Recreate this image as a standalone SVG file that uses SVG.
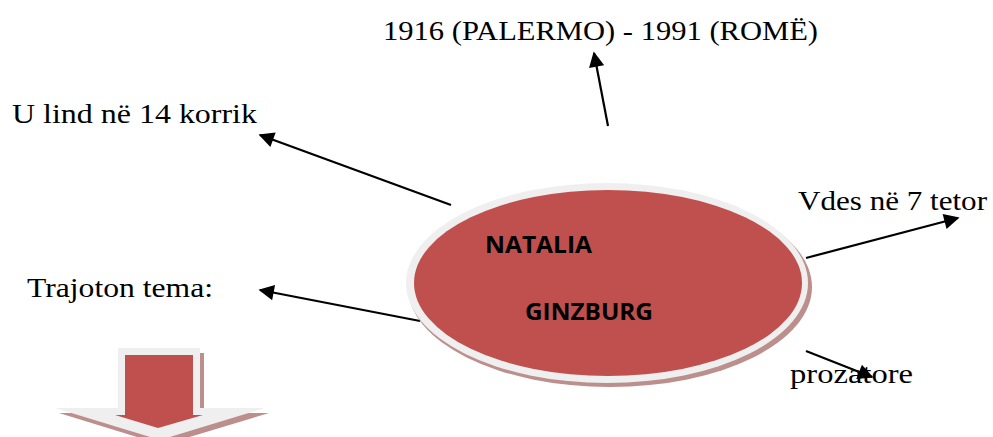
<svg xmlns="http://www.w3.org/2000/svg" width="993" height="437" viewBox="0 0 993 437">
<defs>
<style>
.lbl{font-family:"Liberation Serif","DejaVu Serif",serif;font-size:27px;fill:#000}
.nm{font-family:"Open Sans","Liberation Sans",sans-serif;font-weight:bold;font-size:24px;fill:#000}
.con{stroke:#000;stroke-width:2.2;fill:none;marker-end:url(#ah)}
</style>
<marker id="ah" viewBox="0 0 10 10" refX="9" refY="5" markerWidth="9" markerHeight="7" markerUnits="strokeWidth" orient="auto">
<path d="M0,0 L10,5 L0,10 z" fill="#000"/>
</marker>
</defs>
<rect width="993" height="437" fill="#fff"/>
<g id="connectors">
<line class="con" x1="608" y1="126" x2="594" y2="53"/>
<line class="con" x1="451" y1="205" x2="260" y2="135"/>
<line class="con" x1="420" y1="321" x2="260" y2="290"/>
<line class="con" x1="806" y1="258" x2="958" y2="218"/>
<line class="con" x1="806" y1="351" x2="872" y2="377"/>
</g>
<g id="center">
<ellipse cx="610" cy="287" rx="202" ry="100" fill="#bc8e8c"/>
<ellipse cx="607" cy="283" rx="201" ry="100" fill="#efefef"/>
<ellipse cx="608" cy="283" rx="194" ry="93" fill="#c0504d"/>
<text class="nm" x="485" y="253" textLength="107" lengthAdjust="spacingAndGlyphs">NATALIA</text>
<text class="nm" x="525" y="320" textLength="128" lengthAdjust="spacingAndGlyphs">GINZBURG</text>
</g>
<g id="years"><text class="lbl" x="383" y="40" textLength="435" lengthAdjust="spacingAndGlyphs">1916 (PALERMO) - 1991 (ROMË)</text></g>
<g id="born"><text class="lbl" x="12" y="123" textLength="245" lengthAdjust="spacingAndGlyphs">U lind në 14 korrik</text></g>
<g id="themes"><text class="lbl" x="27" y="297" textLength="186" lengthAdjust="spacingAndGlyphs">Trajoton tema:</text></g>
<g id="died"><text class="lbl" x="798" y="210" textLength="189" lengthAdjust="spacingAndGlyphs">Vdes në 7 tetor</text></g>
<g id="prose"><text class="lbl" x="790" y="383" textLength="123" lengthAdjust="spacingAndGlyphs">prozatore</text></g>
<g id="down-arrow">
<polygon points="122,353 204,353 204,413 269,413 163,445 59,413 122,413" fill="#bc8e8c"/>
<polygon points="118,348 200,348 200,408 265,408 160,440 55,408 118,408" fill="#efefef"/>
<polygon points="125,355 193,355 193,415 203,415 158,428 115,415 125,415" fill="#c0504d"/>
</g>
</svg>
